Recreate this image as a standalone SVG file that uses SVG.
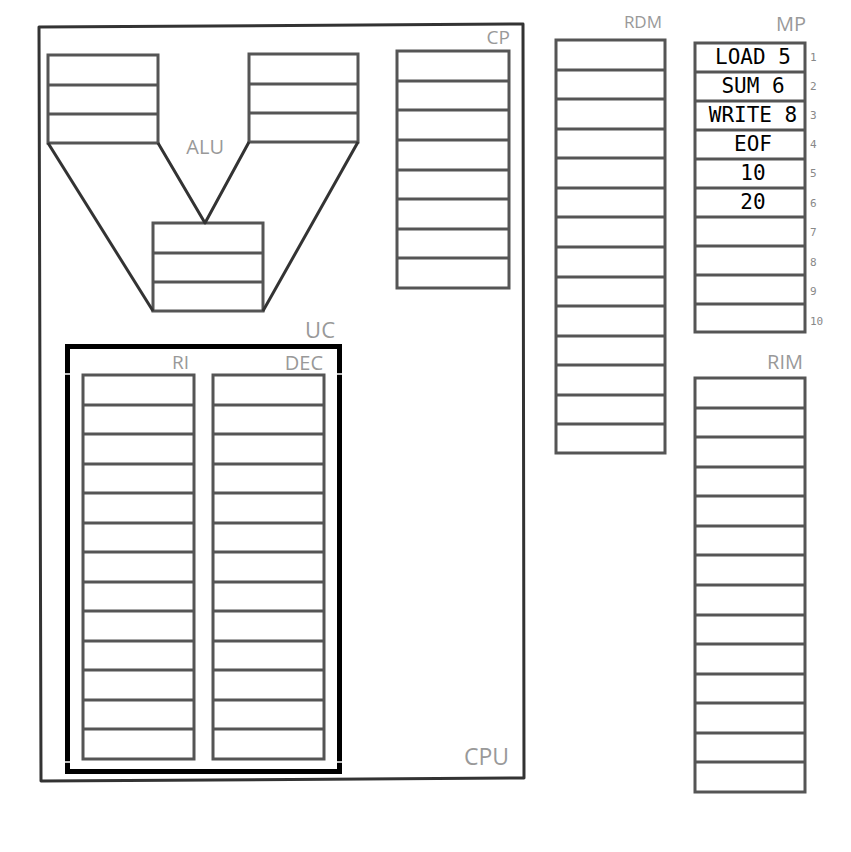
<svg xmlns="http://www.w3.org/2000/svg" width="851" height="852" viewBox="0 0 851 852">
<style>
.reg{fill:#fff;stroke:#555;stroke-width:3}
.row{fill:none;stroke:#555;stroke-width:3}
.lbl{font-family:"Open Sans","Liberation Sans",sans-serif;fill:#999;text-anchor:end}
.val{font-family:"DejaVu Sans Mono","Liberation Mono",monospace;font-size:21px;fill:#000;text-anchor:middle}
.idx{font-family:"DejaVu Sans Mono","Liberation Mono",monospace;font-size:11px;fill:#888}
.conn{fill:none;stroke:#333;stroke-width:3;stroke-linejoin:round}
</style>
<rect width="851" height="852" fill="#fff"/>
<g id="cpu">
<path d="M39,27 L523,24 L524,778 L41,781 Z" fill="none" stroke="#333" stroke-width="3" stroke-linejoin="round"/>
<text class="lbl" x="509" y="765" font-size="23">CPU</text>
</g>
<g id="alu">
<text class="lbl" x="224" y="154" font-size="20">ALU</text>
<g id="alu-a">
<rect class="reg" x="48" y="55" width="110" height="88"/>
<path class="row" d="M48,85H158M48,114H158"/>
</g>
<g id="alu-b">
<rect class="reg" x="249" y="54" width="109" height="88"/>
<path class="row" d="M249,84H358M249,113H358"/>
</g>
<g id="alu-out">
<rect class="reg" x="153" y="223" width="110" height="88"/>
<path class="row" d="M153,253H263M153,282H263"/>
</g>
</g>
<g id="connectors">
<path class="conn" d="M48,143 L153,311"/>
<path class="conn" d="M158,143 L205,223 L249,142"/>
<path class="conn" d="M358,142 L263,311"/>
</g>
<g id="cp">
<text class="lbl" x="510" y="44" font-size="19">CP</text>
<rect class="reg" x="397" y="51" width="112" height="237"/>
<path class="row" d="M397,81H509M397,110H509M397,140H509M397,170H509M397,199H509M397,229H509M397,258H509"/>
</g>
<g id="rdm">
<text class="lbl" x="662" y="28" font-size="17">RDM</text>
<rect class="reg" x="556" y="40" width="109" height="413"/>
<path class="row" d="M556,70H665M556,99H665M556,129H665M556,158H665M556,188H665M556,217H665M556,247H665M556,277H665M556,306H665M556,336H665M556,365H665M556,395H665M556,424H665"/>
</g>
<g id="mp">
<text class="lbl" x="806" y="31" font-size="20">MP</text>
<rect class="reg" x="695" y="43" width="110" height="289"/>
<path class="row" d="M695,72H805M695,101H805M695,130H805M695,159H805M695,188H805M695,217H805M695,246H805M695,275H805M695,304H805"/>
<text class="val" x="753" y="64">LOAD 5</text>
<text class="val" x="753" y="93">SUM 6</text>
<text class="val" x="753" y="122">WRITE 8</text>
<text class="val" x="753" y="151">EOF</text>
<text class="val" x="753" y="180">10</text>
<text class="val" x="753" y="209">20</text>
<text class="idx" x="810" y="61">1</text>
<text class="idx" x="810" y="90">2</text>
<text class="idx" x="810" y="119">3</text>
<text class="idx" x="810" y="148">4</text>
<text class="idx" x="810" y="177">5</text>
<text class="idx" x="810" y="207">6</text>
<text class="idx" x="810" y="236">7</text>
<text class="idx" x="810" y="266">8</text>
<text class="idx" x="810" y="295">9</text>
<text class="idx" x="810" y="325">10</text>
</g>
<g id="rim">
<text class="lbl" x="803" y="369" font-size="20">RIM</text>
<rect class="reg" x="695" y="378" width="110" height="414"/>
<path class="row" d="M695,408H805M695,437H805M695,467H805M695,496H805M695,526H805M695,555H805M695,585H805M695,615H805M695,644H805M695,674H805M695,703H805M695,733H805M695,762H805"/>
</g>
<g id="uc">
<text class="lbl" x="335" y="338" font-size="22">UC</text>
<rect x="67.500" y="346.500" width="272" height="425" fill="none" stroke="#000" stroke-width="5"/>
<path d="M55,374H355M55,762H355" stroke="#fff" stroke-width="1.500"/>
</g>
<g id="ri">
<text class="lbl" x="189" y="369" font-size="19">RI</text>
<rect class="reg" x="83" y="375" width="111" height="384"/>
<path class="row" d="M83,405H194M83,434H194M83,464H194M83,493H194M83,523H194M83,552H194M83,582H194M83,611H194M83,641H194M83,670H194M83,700H194M83,729H194"/>
</g>
<g id="dec">
<text class="lbl" x="323" y="370" font-size="20">DEC</text>
<rect class="reg" x="213" y="375" width="111" height="384"/>
<path class="row" d="M213,405H324M213,434H324M213,464H324M213,493H324M213,523H324M213,552H324M213,582H324M213,611H324M213,641H324M213,670H324M213,700H324M213,729H324"/>
</g>
</svg>
